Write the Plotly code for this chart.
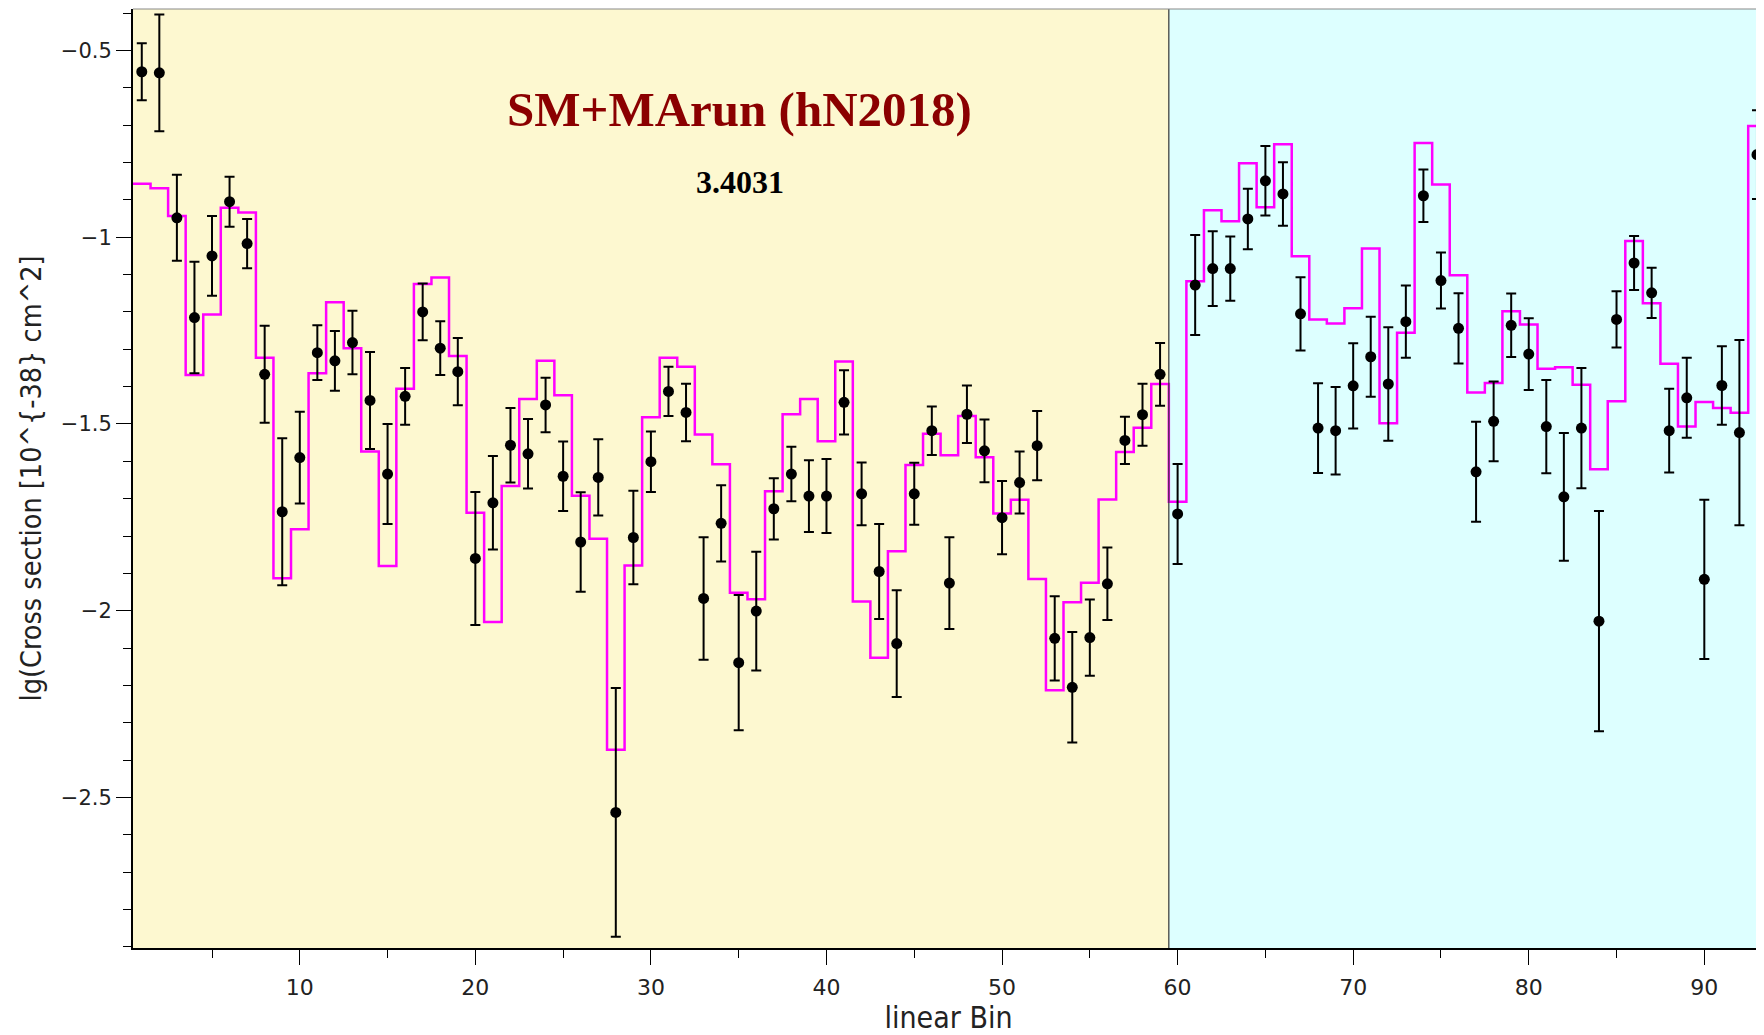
import plotly.graph_objects as go

# bin index (linear bin) and measured values with errors
bins = list(range(1, 94))

data_vals = [
    -0.557, -0.560, -0.948, -1.215, -1.050, -0.905, -1.017, -1.367, -1.735, -1.590,
    -1.309, -1.331, -1.282, -1.437, -1.634, -1.426, -1.200, -1.297, -1.360, -1.860,
    -1.711, -1.557, -1.580, -1.449, -1.640, -1.816, -1.643, -2.540, -1.804, -1.601,
    -1.413, -1.469, -1.967, -1.766, -2.139, -2.001, -1.727, -1.634, -1.693, -1.693,
    -1.442, -1.687, -1.895, -2.088, -1.687, -1.518, -1.926, -1.474, -1.572, -1.751,
    -1.657, -1.558, -2.074, -2.205, -2.072, -1.928, -1.544, -1.475, -1.367, -1.741,
    -1.128, -1.084, -1.084, -0.951, -0.849, -0.884, -1.205, -1.511, -1.518, -1.398,
    -1.320, -1.393, -1.226, -0.889, -1.116, -1.244, -1.628, -1.493, -1.236, -1.313,
    -1.507, -1.695, -1.511, -2.028, -1.220, -1.069, -1.149, -1.518, -1.430, -1.916,
    -1.397, -1.523, -0.779,
]

data_errs = [
    0.076, 0.156, 0.115, 0.149, 0.107, 0.067, 0.066, 0.130, 0.197, 0.123,
    0.073, 0.080, 0.085, 0.130, 0.134, 0.076, 0.076, 0.072, 0.090, 0.178,
    0.125, 0.100, 0.093, 0.073, 0.093, 0.133, 0.102, 0.333, 0.125, 0.081,
    0.066, 0.077, 0.164, 0.102, 0.181, 0.159, 0.082, 0.073, 0.096, 0.099,
    0.086, 0.084, 0.127, 0.143, 0.083, 0.065, 0.123, 0.077, 0.084, 0.098,
    0.083, 0.093, 0.113, 0.148, 0.102, 0.097, 0.063, 0.083, 0.084, 0.134,
    0.134, 0.100, 0.086, 0.081, 0.093, 0.085, 0.098, 0.120, 0.117, 0.114,
    0.107, 0.152, 0.097, 0.070, 0.075, 0.094, 0.134, 0.107, 0.085, 0.096,
    0.125, 0.171, 0.161, 0.295, 0.075, 0.072, 0.067, 0.112, 0.107, 0.213,
    0.105, 0.248, 0.119,
]

# SM+MArun (hN2018) prediction, one value per bin
mc_vals = [
    -0.857, -0.869, -0.943, -1.369, -1.207, -0.921, -0.934, -1.323, -1.913, -1.782,
    -1.364, -1.174, -1.297, -1.574, -1.880, -1.406, -1.125, -1.108, -1.318, -1.738,
    -2.030, -1.666, -1.433, -1.331, -1.423, -1.692, -1.807, -2.372, -1.879, -1.482,
    -1.323, -1.347, -1.528, -1.608, -1.952, -1.969, -1.680, -1.474, -1.433, -1.546,
    -1.333, -1.975, -2.126, -1.841, -1.610, -1.526, -1.584, -1.479, -1.589, -1.740,
    -1.703, -1.915, -2.213, -1.977, -1.925, -1.702, -1.575, -1.510, -1.393, -1.708,
    -1.118, -0.928, -0.957, -0.802, -0.920, -0.751, -1.051, -1.220, -1.231, -1.190,
    -1.030, -1.498, -1.256, -0.748, -0.859, -1.102, -1.416, -1.390, -1.198, -1.234,
    -1.352, -1.348, -1.395, -1.621, -1.439, -1.010, -1.177, -1.339, -1.507, -1.441,
    -1.457, -1.470, -0.702,
]

y_tick_vals = [-0.5, -1, -1.5, -2, -2.5]
y_tick_text = ["\u22120.5", "\u22121", "\u22121.5", "\u22122", "\u22122.5"]
x_tick_vals = [10, 20, 30, 40, 50, 60, 70, 80, 90]

split_bin = 59.5   # boundary between the two regions
title_text = "SM+MArun (hN2018)"
chi2_text = "3.4031"

X_RANGE = [0.5, 93.4]
Y_RANGE = [-2.903, -0.389]

# step histogram drawn from bin edges
edges = [b - 0.5 for b in bins] + [bins[-1] + 0.5]
mc_step = mc_vals + [mc_vals[-1]]

fig = go.Figure()

fig.add_trace(go.Scatter(
    x=edges, y=mc_step,
    mode='lines',
    line=dict(color='#ff00ff', width=2.5, shape='hv'),
    showlegend=False,
    hoverinfo='skip'
))

fig.add_trace(go.Scatter(
    x=bins, y=data_vals,
    mode='markers',
    marker=dict(color='black', size=11),
    error_y=dict(type='data', array=data_errs, color='black', thickness=2, width=5),
    showlegend=False
))

# coloured backgrounds for the two regions
fig.add_shape(type='rect', xref='x', yref='paper', x0=X_RANGE[0], x1=split_bin,
              y0=0, y1=1, fillcolor='#fdf8d0', line_width=0, layer='below')
fig.add_shape(type='rect', xref='x', yref='paper', x0=split_bin, x1=X_RANGE[1] + 1,
              y0=0, y1=1, fillcolor='#ddffff', line_width=0, layer='below')
fig.add_shape(type='line', xref='x', yref='paper', x0=split_bin, x1=split_bin,
              y0=0, y1=1, line=dict(color='#333333', width=1.2))

fig.add_annotation(
    x=0.372, y=0.8935, xref='paper', yref='paper', xanchor='center', yanchor='middle',
    text='<b>' + title_text + '</b>', showarrow=False,
    font=dict(family='Liberation Serif, Times New Roman, serif', size=49, color='#8b0000')
)
fig.add_annotation(
    x=0.372, y=0.816, xref='paper', yref='paper', xanchor='center', yanchor='middle',
    text='<b>' + chi2_text + '</b>', showarrow=False,
    font=dict(family='Liberation Serif, Times New Roman, serif', size=32, color='black')
)

narrow = 'Liberation Sans Narrow, Arial Narrow, DejaVu Sans Condensed, sans-serif'

# the page body adds an 8px offset, so the figure is 8px smaller than the window
fig.update_layout(
    width=1756, height=1027,
    paper_bgcolor='white',
    plot_bgcolor='white',
    margin=dict(l=125, r=0, t=1, b=87),
    xaxis=dict(
        range=X_RANGE,
        tickmode='array', tickvals=x_tick_vals,
        ticks='outside', ticklen=15, tickwidth=1, tickcolor='black',
        ticklabelstandoff=4,
        minor=dict(dtick=5, tick0=0, ticks='outside', ticklen=8, tickcolor='black', showgrid=False),
        showgrid=False, zeroline=False,
        showline=True, linecolor='black', linewidth=2, mirror=False,
        tickfont=dict(family='DejaVu Sans', size=22, color='#222222'),
        title=dict(text='linear Bin', font=dict(family=narrow, size=30, color='#222222'), standoff=6),
    ),
    yaxis=dict(
        range=Y_RANGE,
        tickmode='array', tickvals=y_tick_vals, ticktext=y_tick_text,
        ticks='outside', ticklen=15, tickwidth=1, tickcolor='black',
        minor=dict(dtick=0.1, tick0=0, ticks='outside', ticklen=8, tickcolor='black', showgrid=False),
        showgrid=False, zeroline=False,
        showline=True, linecolor='black', linewidth=2, mirror=False,
        tickfont=dict(family='DejaVu Sans', size=21, color='#222222'),
        title=dict(text='lg(Cross section [10^{-38} cm^2]',
                   font=dict(family=narrow, size=28.5, color='#222222'), standoff=11),
    ),
)

# thin top frame line
fig.add_shape(type='line', xref='paper', yref='paper', x0=0, x1=1, y0=1, y1=1,
              line=dict(color='#888888', width=1))

fig.write_html("out.html")
